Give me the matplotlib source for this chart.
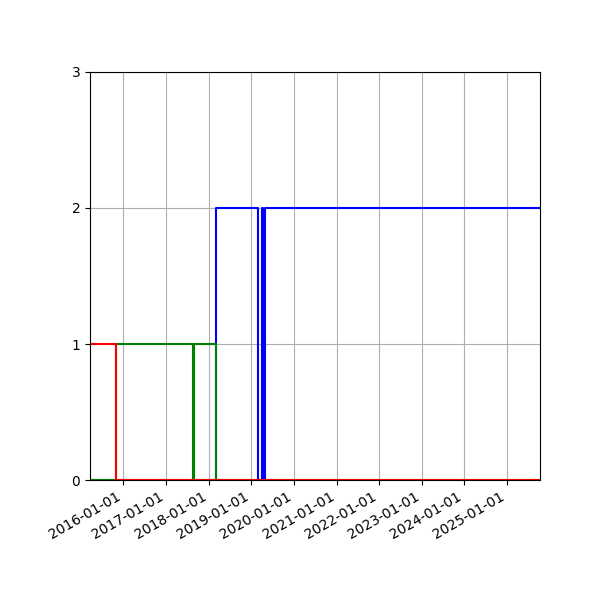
import numpy as np
import matplotlib
matplotlib.use("Agg")
from matplotlib import pyplot as plt
import matplotlib.dates as mdates

# change points of each series (value holds until the next date)
red_dates = ["2015-03-20", "2015-10-30", "2025-10-12"]
red_vals = [1, 0, 0]

green_dates = ["2015-03-20", "2015-10-30", "2017-08-20", "2017-08-27", "2018-03-06", "2025-10-12"]
green_vals = [0, 1, 0, 1, 0, 0]

blue_dates = ["2015-03-20", "2018-03-06", "2019-02-24", "2019-04-02", "2019-04-13", "2019-04-30", "2025-10-12"]
blue_vals = [0, 2, 0, 2, 0, 2, 2]

y_ticks = [0, 1, 2, 3]

def to_dt(lst):
    return np.array(lst, dtype="datetime64[D]")

fig = plt.figure(figsize=(6, 6), dpi=100)
ax = fig.add_axes([0.15, 0.2, 0.75, 0.68])

ax.plot(to_dt(blue_dates), blue_vals, color="blue", drawstyle="steps-post")
ax.plot(to_dt(green_dates), green_vals, color="green", drawstyle="steps-post")
ax.plot(to_dt(red_dates), red_vals, color="red", drawstyle="steps-post")

ax.set_xlim(to_dt(red_dates)[0], to_dt(red_dates)[-1])
ax.set_ylim(0, 3)
ax.set_yticks(y_ticks)
ax.xaxis.set_major_locator(mdates.YearLocator())
ax.xaxis.set_major_formatter(mdates.DateFormatter("%Y-%m-%d"))
ax.grid()
for lab in ax.get_xticklabels():
    lab.set_rotation(30)
    lab.set_ha("right")

fig.savefig("out.png")
